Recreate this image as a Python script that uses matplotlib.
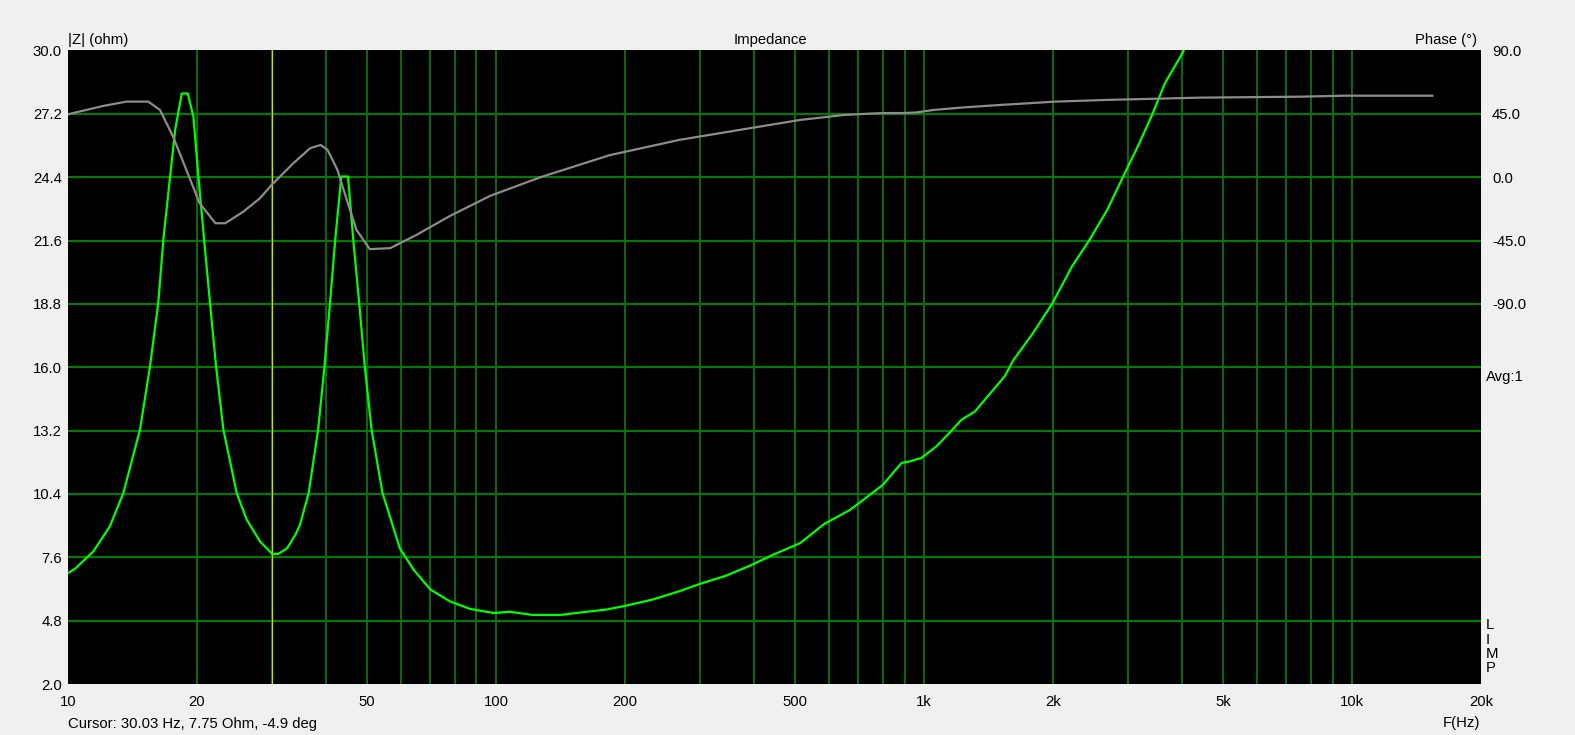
"""Impedance / phase sweep, redrawn with matplotlib."""

import matplotlib
matplotlib.use("Agg")
import matplotlib.pyplot as plt
from matplotlib.ticker import FixedLocator, FixedFormatter, NullFormatter

plt.rcParams["font.family"] = ["Liberation Sans", "DejaVu Sans"]

# |Z| curve (Hz, ohm)
imp_freq = [10.0, 10.4, 11.46, 12.53, 13.47, 14.73, 15.54, 16.25, 16.7, 17.32, 17.8, 18.44,
            19.05, 19.63, 20.17, 20.8, 21.47, 22.18, 23.07, 24.78, 26.16, 28.1, 30.0, 31.0,
            32.5, 34.0, 34.84, 36.5, 38.4, 39.7, 40.93, 42.1, 43.5, 45.1, 46.4, 47.9,
            49.4, 51.2, 54.3, 59.6, 64.2, 70.3, 78.1, 86.9, 98.6, 107.8, 122, 141, 159,
            181, 201, 232, 268, 299, 345, 392, 445, 514, 584, 672, 748, 802, 839, 886,
            927, 985, 1068, 1145, 1223, 1314, 1543, 1619, 1797, 1995, 2215, 2435, 2677,
            2919, 3182, 3409, 3652, 4020, 4100]
imp_ohm = [6.9, 7.1, 7.86, 8.97, 10.44, 13.24, 16.03, 18.83, 21.63, 24.43, 26.5, 28.1,
           28.1, 27.08, 24.43, 21.63, 18.83, 16.03, 13.24, 10.44, 9.26, 8.3, 7.75, 7.75,
           8.0, 8.6, 9.04, 10.44, 13.24, 15.96, 18.83, 21.63, 24.43, 24.43, 21.63, 18.83,
           15.96, 13.24, 10.44, 8.0, 7.05, 6.17, 5.65, 5.32, 5.14, 5.19, 5.05, 5.05, 5.17,
           5.29, 5.46, 5.73, 6.1, 6.42, 6.79, 7.23, 7.72, 8.23, 9.07, 9.7, 10.37, 10.81,
           11.25, 11.77, 11.84, 11.99, 12.5, 13.09, 13.68, 14.04, 15.6, 16.33, 17.51,
           18.83, 20.45, 21.63, 22.95, 24.43, 25.9, 27.15, 28.55, 29.9, 30.3]

# phase curve (Hz, degrees)
ph_freq = [10.0, 12.08, 13.7, 15.4, 16.4, 17.6, 18.9, 20.3, 22.1, 23.3, 25.7, 28.1,
           29.9, 33.6, 36.8, 38.9, 40.4, 42.6, 44.8, 47.2, 50.7, 56.6, 59.6, 65.2, 68.8,
           78.1, 96.8, 127, 184, 268, 351, 514, 650, 748, 818, 900, 960, 1055, 1240,
           1503, 2031, 2677, 4387, 7550, 9660, 15400]
ph_deg = [44.7, 50.6, 53.7, 53.7, 47.8, 28.8, 5.2, -18.5, -32.7, -32.7, -24.4, -14.9,
          -5.5, 9.9, 20.6, 22.9, 19.4, 5.2, -16.1, -37.4, -51.1, -50.4, -46.9, -41.0,
          -36.9, -27.5, -13.3, 0.0, 15.6, 26.5, 32.4, 40.7, 44.2, 45.2, 45.6, 45.6, 46.0,
          47.8, 49.6, 51.3, 53.7, 54.9, 56.5, 57.2, 57.9, 57.9]

z_ticks = [2.0, 4.8, 7.6, 10.4, 13.2, 16.0, 18.8, 21.6, 24.4, 27.2, 30.0]
phase_ticks = [90.0, 45.0, 0.0, -45.0, -90.0]
f_ticks = [10, 20, 50, 100, 200, 500, 1000, 2000, 5000, 10000, 20000]
f_labels = ["10", "20", "50", "100", "200", "500", "1k", "2k", "5k", "10k", "20k"]
f_grid = [20, 30, 40, 50, 60, 70, 80, 90, 100, 200, 300, 400, 500, 600, 700, 800, 900,
          1000, 2000, 3000, 4000, 5000, 6000, 7000, 8000, 9000, 10000]
cursor_hz = 30.03

W, H = 1575, 735
BG = "#f0f0f0"
FS = 10.7


def fx(px):
    return px / W


def fy(py):
    return 1 - py / H


fig = plt.figure(figsize=(W / 100, H / 100), dpi=100, facecolor=BG)
left, right, top, bottom = 68, 1481, 50.5, 684
ax = fig.add_axes([fx(left), fy(bottom), fx(right - left), (bottom - top) / H])
ax.set_facecolor("black")
ax.set_xscale("log")
ax.set_xlim(10, 20000)
ax.set_ylim(2.0, 30.0)

# grid
for f in f_grid:
    ax.axvline(f, color="#0f650f", lw=1.5, zorder=1)
for z in z_ticks[1:-1]:
    ax.axhline(z, color="#007c00", lw=1.5, zorder=1)
ax.axvline(cursor_hz, color="#d8d800", lw=0.9, zorder=2)

ax.plot(imp_freq, imp_ohm, color="#00ff00", lw=1.6, zorder=3, clip_on=True)

ax.xaxis.set_major_locator(FixedLocator(f_ticks))
ax.xaxis.set_major_formatter(FixedFormatter(f_labels))
ax.xaxis.set_minor_formatter(NullFormatter())
ax.set_yticks(z_ticks)
ax.set_yticklabels([f"{z:.1f}" for z in z_ticks])
ax.tick_params(axis="x", which="both", length=0, pad=8, labelsize=FS)
ax.tick_params(axis="y", length=0, pad=4.5, labelsize=FS)
for s in ax.spines.values():
    s.set_visible(False)

# phase on the right, same frame: 90 deg at 30 ohm, 45 deg per 2.8 ohm
ax2 = ax.twinx()
ax2.set_ylim(-360, 90)
ax2.plot(ph_freq, ph_deg, color="#8c8c8c", lw=1.6, zorder=4)
ax2.set_yticks(phase_ticks)
ax2.set_yticklabels([f"{p:.1f}" for p in phase_ticks])
ax2.tick_params(axis="y", length=0, pad=8, labelsize=FS)
for s in ax2.spines.values():
    s.set_visible(False)
ax2.set_xlim(10, 20000)

# labels around the frame
fig.text(fx(68), fy(40), "|Z| (ohm)", ha="left", va="center", fontsize=FS)
fig.text(fx(770), fy(40), "Impedance", ha="center", va="center", fontsize=FS)
fig.text(fx(1477), fy(40), "Phase (°)", ha="right", va="center", fontsize=FS)
fig.text(fx(1486), fy(377), "Avg:1", ha="left", va="center", fontsize=FS)
for i, ch in enumerate("LIMP"):
    fig.text(fx(1486), fy(625 + i * 14.5), ch, ha="left", va="center", fontsize=FS)
fig.text(fx(68), fy(724), f"Cursor: {cursor_hz:.2f} Hz, 7.75 Ohm, -4.9 deg",
         ha="left", va="center", fontsize=FS)
fig.text(fx(1480), fy(723), "F(Hz)", ha="right", va="center", fontsize=FS)

fig.savefig("out.png", dpi=100, facecolor=BG)
